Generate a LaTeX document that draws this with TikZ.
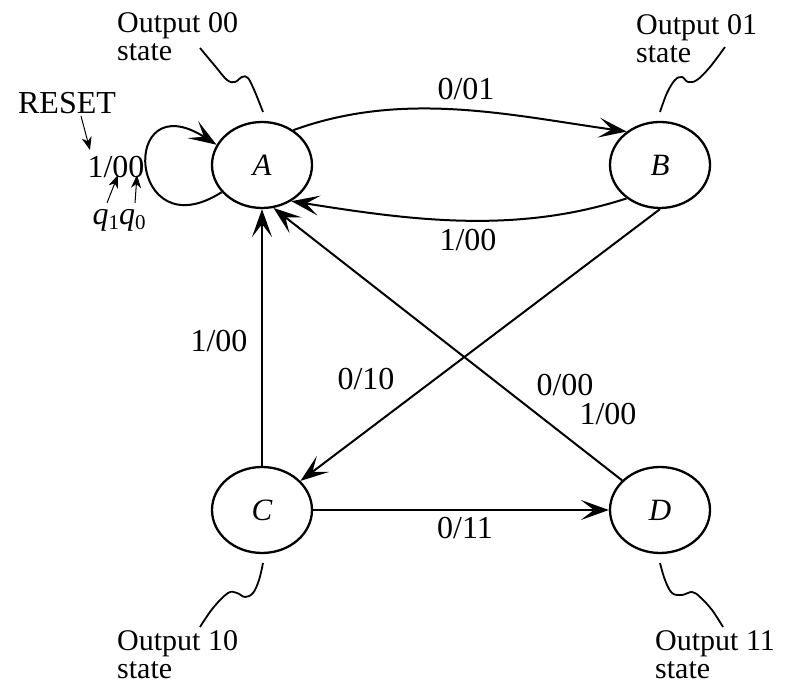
\documentclass[tikz,border=0pt]{standalone}
\usepackage{fontspec}
\setmainfont{Liberation Serif}
\usetikzlibrary{shapes.geometric,arrows.meta}
\begin{document}
\begin{tikzpicture}[x=1pt,y=1pt,
  state/.style={ellipse, draw, line width=2.3pt, minimum width=100pt, minimum height=86pt, inner sep=0pt, font=\fontsize{31}{31}\selectfont\itshape},
  lbl/.style={inner sep=0pt, font=\fontsize{32}{32}\selectfont},
  note/.style={inner sep=0pt, align=left, anchor=north west, font=\fontsize{30}{28}\selectfont},
  edge/.style={line width=2pt, -{Stealth[length=28pt,width=20pt,inset=13pt]}},
  lead/.style={line width=1.8pt},
  small/.style={line width=1pt, -{Stealth[length=13pt,width=10pt,inset=4pt]}},
]
\useasboundingbox (0,0) rectangle (787,684);
\node[state] (A) at (262,519) {A};
\node[state] (B) at (660,519) {B};
\node[state] (C) at (262,174) {C};
\node[state] (D) at (660,174) {D};

\draw[edge] (A.48) to[out=20,in=172,looseness=0.9] (B.135);
\draw[edge] (B.225) to[out=198,in=-9,looseness=0.9] (A.-51);
\draw[edge] (C) -- (A);
\draw[edge] (B.south) -- (C);
\draw[edge] (D) -- (A.-75);
\draw[edge] (C) -- (D);
\draw[edge] (A.214) .. controls (128,432) and (118,602) .. (A.156);

\node[lbl] (l01) at (466,595) {0/01};
\node[lbl] (l100a) at (468,444) {1/00};
\node[lbl] (l100b) at (219,343) {1/00};
\node[lbl] (l010) at (366,305) {0/10};
\node[lbl] (l000) at (565,299) {0/00};
\node[lbl] (l100c) at (608,270) {1/00};
\node[lbl] (l011) at (465,156) {0/11};
\node[lbl] (lloop) at (116,517) {1/00};
\node[lbl] (reset) at (67,581) {RESET};
\node[lbl] (q) at (119,464) {\textit{q}\raisebox{-5pt}{\fontsize{21}{21}\selectfont 1}\textit{q}\raisebox{-5pt}{\fontsize{21}{21}\selectfont 0}};

\coordinate (r0) at (81,568);
\coordinate (r1) at (90,534);
\draw[small] (r0) -- (r1);
\coordinate (qa0) at (107,481);
\coordinate (qa1) at (118,509);
\draw[small] (qa0) -- (qa1);
\coordinate (qb0) at (135,481);
\coordinate (qb1) at (137,509);
\draw[small] (qb0) -- (qb1);

\node[note] (n0) at (117,672) {Output 00\\state};
\node[note] (n1) at (636,670) {Output 01\\state};
\node[note] (n2) at (117,54) {Output 10\\state};
\node[note] (n3) at (655,54) {Output 11\\state};

\draw[lead] plot[smooth, tension=0.6] coordinates {(200,636) (215,618) (227,604) (235,602) (242,607) (248,606) (255,592) (263,572)};
\draw[lead] plot[smooth, tension=0.6] coordinates {(660,572) (667,591) (675,604) (682,607) (688,602) (697,604) (710,617) (725,637)};
\draw[lead] plot[smooth, tension=0.6] coordinates {(263,121) (259,104) (253,91) (245,87) (237,91) (228,91) (213,76) (200,57)};
\draw[lead] plot[smooth, tension=0.6] coordinates {(660,121) (665,104) (672,91) (682,89) (692,92) (700,87) (712,74) (723,57)};
\end{tikzpicture}
\end{document}
